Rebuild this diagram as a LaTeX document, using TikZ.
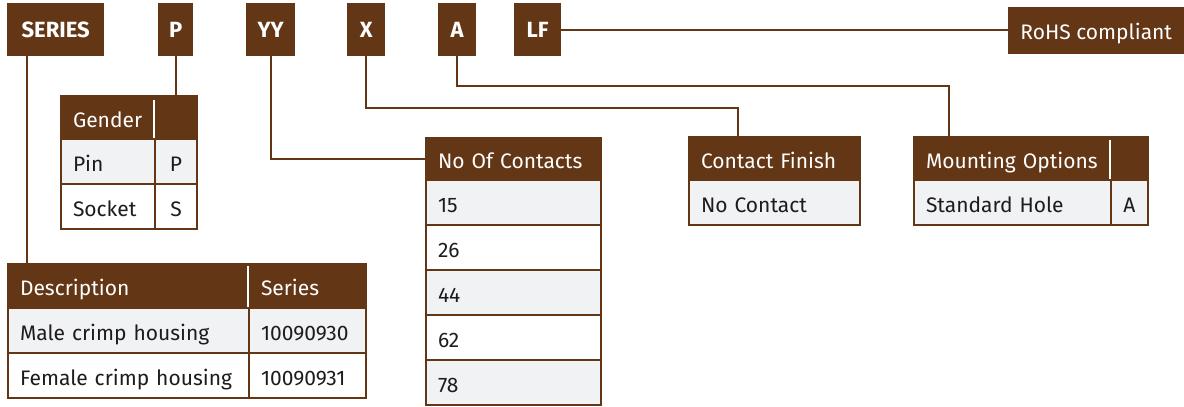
\documentclass[tikz,border=0pt]{standalone}
\usepackage{fontspec}
\setmainfont{Fira Sans}
\usetikzlibrary{calc}
\definecolor{brn}{RGB}{99,54,22}
\definecolor{rowg}{RGB}{241,242,244}
\definecolor{txt}{RGB}{30,27,28}
\newcommand\tfont{\fontsize{21}{25}\selectfont}
\newcommand\bfont{\fontsize{22}{26}\selectfont\bfseries}
\begin{document}
\begin{tikzpicture}[x=1pt,y=-1pt,
  topbox/.style={fill=brn, text=white, font=\bfont, inner sep=0pt, anchor=north west},
  cell/.style={draw=brn, line width=2pt, inner xsep=12pt, inner ysep=0pt, anchor=north west, align=left, font=\tfont, text=txt, text height=19pt, text depth=0pt},
  ncell/.style={cell, inner xsep=4pt, align=center},
  headcell/.style={fill=brn, text=white},
  grayrow/.style={fill=rowg},
  whiterow/.style={fill=white},
  conn/.style={draw=brn, line width=2pt},
  hdiv/.style={draw=white, line width=1.6pt}]
\useasboundingbox (0,0) rectangle (1184,407);

% top code boxes
\node[topbox, minimum width=97pt, minimum height=53pt] (series) at (7,3) {SERIES};
\node[topbox, minimum width=35pt, minimum height=53pt] (p) at (158,3) {P};
\node[topbox, minimum width=49pt, minimum height=53pt] (yy) at (246,3) {YY};
\node[topbox, minimum width=38pt, minimum height=53pt] (xb) at (347,3) {X};
\node[topbox, minimum width=38pt, minimum height=53pt] (ab) at (438,3) {A};
\node[topbox, minimum width=47pt, minimum height=53pt] (lf) at (514,3) {LF};
\node[topbox, font=\tfont, minimum width=176pt, minimum height=47pt, text height=18pt, text depth=0pt] (rohs) at (1008,7) {RoHS compliant};

% Gender table
\node[cell, headcell, text width=70pt, minimum height=43pt] (gh1) at (60,95) {Gender};
\node[ncell, headcell, text width=34pt, minimum height=43pt] (gh2) at (154,95) {};
\node[cell, grayrow, text width=70pt, minimum height=45pt] (g11) at (60,138) {Pin};
\node[ncell, grayrow, text width=34pt, minimum height=45pt] (g12) at (154,138) {P};
\node[cell, whiterow, text width=70pt, minimum height=45pt] (g21) at (60,183) {Socket};
\node[ncell, whiterow, text width=34pt, minimum height=45pt] (g22) at (154,183) {S};
\draw[hdiv] ($(gh2.north west)+(0,5)$) -- ($(gh2.south west)+(0,-2)$);

% Description table
\node[cell, headcell, text width=217pt, minimum height=44pt] (dh1) at (7,263) {Description};
\node[cell, headcell, text width=93pt, minimum height=44pt] (dh2) at (248,263) {Series};
\node[cell, grayrow, text width=217pt, minimum height=45pt] (d11) at (7,307) {Male crimp housing};
\node[cell, grayrow, text width=93pt, minimum height=45pt] (d12) at (248,307) {10090930};
\node[cell, whiterow, text width=217pt, minimum height=45pt] (d21) at (7,352) {Female crimp housing};
\node[cell, whiterow, text width=93pt, minimum height=45pt] (d22) at (248,352) {10090931};
\draw[hdiv] ($(dh2.north west)+(0,3)$) -- ($(dh2.south west)+(0,-2)$);

% No Of Contacts table
\node[cell, headcell, text width=151pt, minimum height=42pt] (nch) at (425,137) {No Of Contacts};
\node[cell, grayrow, text width=151pt, minimum height=45pt] (nc1) at (425,179) {15};
\node[cell, whiterow, text width=151pt, minimum height=45pt] (nc2) at (425,224) {26};
\node[cell, grayrow, text width=151pt, minimum height=45pt] (nc3) at (425,269) {44};
\node[cell, whiterow, text width=151pt, minimum height=45pt] (nc4) at (425,314) {62};
\node[cell, grayrow, text width=151pt, minimum height=45pt] (nc5) at (425,359) {78};

% Contact Finish table
\node[cell, headcell, text width=147pt, minimum height=43pt] (cfh) at (688,136) {Contact Finish};
\node[cell, grayrow, text width=147pt, minimum height=45pt] (cf1) at (688,179) {No Contact};

% Mounting Options table
\node[cell, headcell, text width=173pt, minimum height=43pt] (mh1) at (913,136) {Mounting Options};
\node[ncell, headcell, text width=29pt, minimum height=43pt] (mh2) at (1110,136) {};
\node[cell, grayrow, text width=173pt, minimum height=45pt] (m11) at (913,179) {Standard Hole};
\node[ncell, grayrow, text width=29pt, minimum height=45pt] (m12) at (1110,179) {A};
\draw[hdiv] ($(mh2.north west)+(0,4)$) -- ($(mh2.south west)+(0,-2)$);

% connectors
\coordinate (sx) at ($(series.south west)+(20,0)$);
\draw[conn] (sx) -- (sx |- dh1.north);
\draw[conn] (p.south) -- (p.south |- gh1.north);
\draw[conn] (yy.south) |- (nch.west);
\coordinate (xturn) at ($(cfh.north west)+(50,0)$);
\draw[conn] (xb.south) |- ($(xturn)+(0,-28)$) -- (xturn);
\coordinate (aturn) at ($(mh1.north west)+(36,0)$);
\draw[conn] (ab.south) |- ($(aturn)+(0,-50)$) -- (aturn);
\draw[conn] (lf.east) -- (lf.east -| rohs.west);
\end{tikzpicture}
\end{document}
